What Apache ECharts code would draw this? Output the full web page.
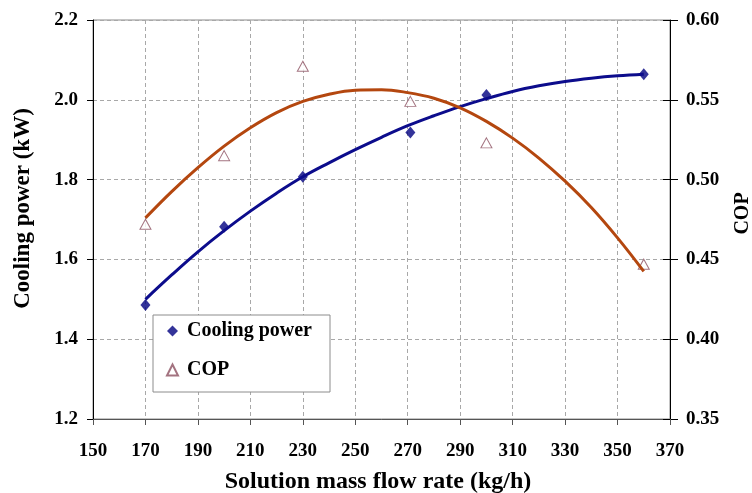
<!DOCTYPE html>
<html>
<head>
<meta charset="utf-8">
<script src="https://cdn.jsdelivr.net/npm/echarts@6/dist/echarts.min.js"></script>
<style>
html,body{margin:0;padding:0;background:#fff;}
#chart{width:752px;height:493px;}
</style>
</head>
<body>
<div id="chart"></div>
<script>
// Measured points
var flowX = [170, 200, 230, 271, 300, 360];
var coolingPower = [1.486, 1.682, 1.807, 1.918, 2.012, 2.064];
var copValues = [0.472, 0.515, 0.571, 0.549, 0.523, 0.447];

// Trendlines
var trendX = [170, 180, 190, 200, 210, 220, 230, 240, 250, 260, 270, 280, 290, 300, 310, 320, 330, 340, 350, 360];
var coolingTrend = [1.500, 1.561, 1.619, 1.672, 1.721, 1.766, 1.807, 1.842, 1.875, 1.906, 1.935, 1.960, 1.983, 2.003, 2.021, 2.035, 2.046, 2.054, 2.060, 2.064];
var copTrend = [0.476, 0.4925, 0.5075, 0.521, 0.5325, 0.542, 0.549, 0.5535, 0.556, 0.5563, 0.5545, 0.551, 0.545, 0.5365, 0.526, 0.5135, 0.499, 0.4825, 0.4635, 0.4425];

// Axis settings
var xTicks = {min: 150, max: 370, interval: 20};
var yLeftTicks = {min: 1.2, max: 2.2, interval: 0.2};
var yRightTicks = {min: 0.35, max: 0.60, interval: 0.05};

function pairs(xs, ys) { return xs.map(function (x, i) { return [x, ys[i]]; }); }

var FONT = "'Liberation Serif', 'Times New Roman', serif";
var labelStyle = {fontFamily: FONT, fontWeight: 'bold', fontSize: 19, color: '#000'};

var chart = echarts.init(document.getElementById('chart'));
chart.setOption({
  animation: false,
  backgroundColor: '#fff',
  grid: {left: 93, right: 82, top: 20, bottom: 74, containLabel: false, outerBoundsMode: 'none',
         show: true, borderColor: '#8a8a8a', borderWidth: 1, backgroundColor: 'transparent'},
  legend: {
    data: ['Cooling power', 'COP'],
    orient: 'vertical',
    left: 153, top: 315,
    padding: [6, 18, 12, 13],
    itemGap: 19,
    itemWidth: 11, itemHeight: 11,
    backgroundColor: '#fff',
    borderColor: '#8c8c8c', borderWidth: 1,
    textStyle: {fontFamily: FONT, fontWeight: 'bold', fontSize: 20, color: '#000', lineHeight: 20, padding: [0, 0, 0, 4]}
  },
  xAxis: {
    type: 'value', min: xTicks.min, max: xTicks.max, interval: xTicks.interval,
    name: 'Solution mass flow rate (kg/h)', nameLocation: 'middle', nameGap: 51,
    nameTextStyle: {fontFamily: FONT, fontWeight: 'bold', fontSize: 24, color: '#000', padding: [0, 7, 0, 0]},
    axisLine: {lineStyle: {color: '#555', width: 1}},
    axisTick: {length: 6, lineStyle: {color: '#555'}},
    axisLabel: Object.assign({margin: 23}, labelStyle),
    splitLine: {show: true, lineStyle: {color: '#a8a8a8', type: [4, 3], width: 1}}
  },
  yAxis: [{
    type: 'value', position: 'left', min: yLeftTicks.min, max: yLeftTicks.max, interval: yLeftTicks.interval,
    name: 'Cooling power (kW)', nameLocation: 'middle', nameGap: 58, nameRotate: 90,
    nameTextStyle: {fontFamily: FONT, fontWeight: 'bold', fontSize: 23, color: '#000', padding: [0, 0, 0, 22]},
    axisLine: {show: true, lineStyle: {color: '#000', width: 1}},
    axisTick: {show: true, length: 6, lineStyle: {color: '#000'}},
    axisLabel: Object.assign({margin: 15, formatter: function (v) { return v.toFixed(1); }}, labelStyle),
    splitLine: {show: true, lineStyle: {color: '#a8a8a8', type: [4, 3], width: 1}}
  }, {
    type: 'value', position: 'right', min: yRightTicks.min, max: yRightTicks.max, interval: yRightTicks.interval,
    name: 'COP', nameLocation: 'middle', nameGap: 63, nameRotate: 90,
    nameTextStyle: {fontFamily: FONT, fontWeight: 'bold', fontSize: 20, color: '#000', padding: [0, 0, 0, 12]},
    axisLine: {show: true, lineStyle: {color: '#000', width: 1}},
    axisTick: {show: true, length: 8, lineStyle: {color: '#000'}},
    axisLabel: Object.assign({margin: 16, formatter: function (v) { return v.toFixed(2); }}, labelStyle),
    splitLine: {show: false}
  }, {
    type: 'value', position: 'right', min: yRightTicks.min, max: yRightTicks.max, interval: yRightTicks.interval,
    axisLine: {show: false},
    axisTick: {show: true, inside: true, length: 7, lineStyle: {color: '#000'}},
    axisLabel: {show: false},
    splitLine: {show: false}
  }],
  series: [{
    name: 'Cooling power', type: 'scatter', yAxisIndex: 0,
    symbol: 'diamond', symbolSize: [10, 12],
    itemStyle: {color: '#000080'},
    data: pairs(flowX, coolingPower), z: 3
  }, {
    name: 'COP', type: 'scatter', yAxisIndex: 1,
    symbol: 'triangle', symbolSize: [11, 10],
    itemStyle: {color: '#fff', borderColor: '#8c5060', borderWidth: 1},
    data: pairs(flowX, copValues), z: 3
  }, {
    name: 'Cooling trend', type: 'line', yAxisIndex: 0, smooth: 0.4,
    symbol: 'none', lineStyle: {color: '#0c0c8c', width: 3},
    data: pairs(trendX, coolingTrend), z: 4
  }, {
    name: 'COP trend', type: 'line', yAxisIndex: 1, smooth: 0.4,
    symbol: 'none', lineStyle: {color: '#b4470f', width: 3},
    data: pairs(trendX, copTrend), z: 4
  }]
});
</script>
</body>
</html>
